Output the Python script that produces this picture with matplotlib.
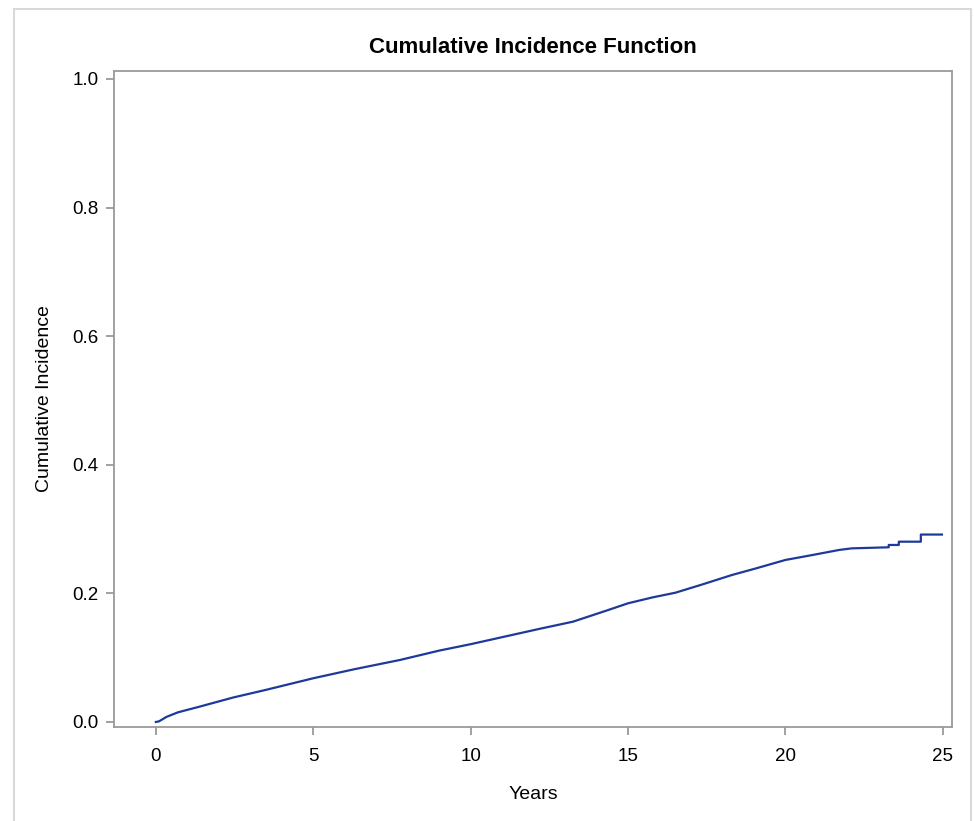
import numpy as np
import matplotlib.pyplot as plt
from matplotlib.lines import Line2D

plt.rcParams['font.family'] = ['Liberation Sans', 'DejaVu Sans']

# Estimación (años, incidencia acumulada)
years = [0.0, 0.1, 0.34, 0.7, 1.4, 2.45, 3.5, 5.0, 6.3, 7.75, 9.0, 10.0,
         11.1, 12.2, 13.25, 14.3, 15.0, 15.8, 16.5, 17.3, 18.3, 19.0, 20.0,
         20.86, 21.7, 22.1, 23.28, 23.28, 23.6, 23.6, 24.3, 24.3, 24.97]
incidence = [0.0, 0.001, 0.008, 0.015, 0.024, 0.038, 0.050, 0.068, 0.082,
             0.0964, 0.111, 0.121, 0.133, 0.145, 0.156, 0.173, 0.1846, 0.194,
             0.201, 0.213, 0.2286, 0.238, 0.252, 0.2597, 0.2675, 0.270,
             0.2717, 0.2753, 0.2753, 0.2804, 0.2804, 0.2915, 0.2915]
x_ticks = [0, 5, 10, 15, 20, 25]
y_ticks = [0.0, 0.2, 0.4, 0.6, 0.8, 1.0]

W, H = 974, 821
fig = plt.figure(figsize=(W / 100, H / 100), dpi=100)

# marco exterior gris claro
frame_col = '#d9d9d9'
fig.add_artist(Line2D([14 / W, 14 / W], [0, 1 - 9 / H], transform=fig.transFigure, color=frame_col, lw=1.5))
fig.add_artist(Line2D([14 / W, 971 / W], [1 - 9 / H, 1 - 9 / H], transform=fig.transFigure, color=frame_col, lw=1.5))
fig.add_artist(Line2D([971 / W, 971 / W], [0, 1 - 9 / H], transform=fig.transFigure, color=frame_col, lw=1.5))

ax = fig.add_axes([114 / W, 1 - 727 / H, (952 - 114) / W, (727 - 71) / H])
ax.plot(years, incidence, color='#1d3a9a', lw=1.6)

ax.set_xlim(-1.33, 25.29)
ax.set_ylim(-0.0078, 1.0124)
ax.set_xticks(x_ticks)
ax.set_yticks(y_ticks)
ax.set_yticklabels([f'{v:.1f}' for v in y_ticks])

spine_col = '#9a9a9a'
for s in ax.spines.values():
    s.set_color(spine_col)
    s.set_linewidth(1.3)
ax.tick_params(colors=spine_col, labelcolor='black', length=6, width=1.3, labelsize=13.5)
ax.tick_params(axis='y', pad=5)
ax.tick_params(axis='x', pad=9)

ax.set_title('Cumulative Incidence Function', fontsize=16, fontweight='bold', pad=13)
ax.set_xlabel('Years', fontsize=14, labelpad=15)
ax.set_ylabel('Cumulative Incidence', fontsize=14, labelpad=14)

fig.savefig('out.png', dpi=100)
